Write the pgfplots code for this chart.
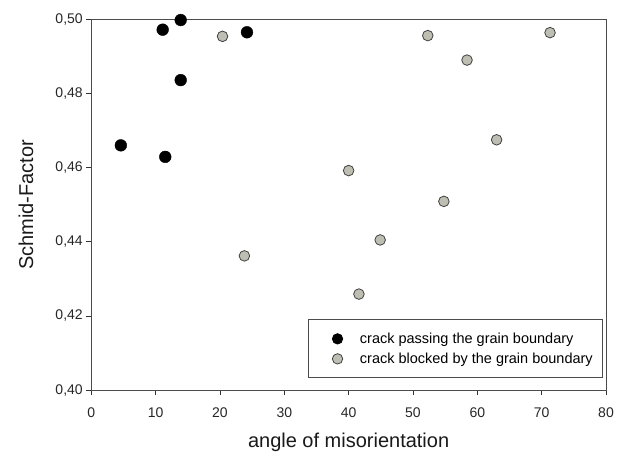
\documentclass[border=0pt]{standalone}
\usepackage{fontspec}
\setmainfont{Liberation Sans}
\usepackage{pgfplots}
\pgfplotsset{compat=1.18}
\definecolor{grayfill}{RGB}{190,190,178}
\begin{document}
\begin{tikzpicture}
\begin{axis}[
  scale only axis,
  width=515pt, height=371pt,
  xmin=0, xmax=80, ymin=0.40, ymax=0.50,
  xtick={0,10,...,80},
  ytick={0.40,0.42,0.44,0.46,0.48,0.50},
  /pgf/number format/assume math mode=true,
  yticklabel style={/pgf/number format/.cd, use comma, fixed, fixed zerofill, precision=2},
  ticklabel style={font=\fontsize{14}{16}\selectfont, text=black!85},
  xticklabel style={yshift=-9pt},
  tick align=outside,
  major tick length=5pt,
  xtick pos=bottom, ytick pos=left,
  axis line style={black!70, line width=0.8pt},
  tick style={black!80, line width=0.8pt},
  xlabel={angle of misorientation},
  ylabel={Schmid-Factor},
  label style={font=\fontsize{20}{22}\selectfont, text=black!90},
  xlabel style={at={(axis description cs:0.5,-0.14)}, anchor=center},
  ylabel style={at={(axis description cs:-0.127,0.5)}, anchor=center},
  legend style={at={(0.9935,0.032)}, anchor=south east, draw=black!70, line width=0.8pt,
    font=\fontsize{14.5}{16}\selectfont, inner xsep=7.5pt, inner ysep=11pt,
    row sep=4pt, cells={anchor=west}},
  legend cell align=left,
  legend image code/.code={\path (-21pt,0pt) (20pt,0pt);
     \draw[#1, mark size=5.2pt] plot coordinates {(0pt,0pt)};},
]
\addplot[only marks, mark=*, mark size=5.9pt, mark options={fill=black, draw=black}] coordinates {
 (4.6,0.4660) (11.1,0.4972) (13.9,0.4998) (13.9,0.4836) (11.5,0.4629) (24.2,0.4965)
};
\addlegendentry{crack passing the grain boundary}
\addplot[only marks, mark=*, mark size=5.3pt, mark options={fill=grayfill, draw=black!75, line width=0.8pt}] coordinates {
 (20.4,0.4954) (52.3,0.4956) (71.3,0.4964) (58.4,0.4890) (63.0,0.4675) (40.0,0.4592)
 (54.8,0.4509) (23.8,0.4362) (44.9,0.4405) (41.6,0.4259)
};
\addlegendentry{crack blocked by the grain boundary}
\coordinate (A) at (rel axis cs:0,0);
\coordinate (B) at (rel axis cs:1,1);
\end{axis}
\pgfresetboundingbox
\path ([shift={(-91.3pt,-65pt)}]A) rectangle ([shift={(18pt,19.3pt)}]B);
\end{tikzpicture}
\end{document}
